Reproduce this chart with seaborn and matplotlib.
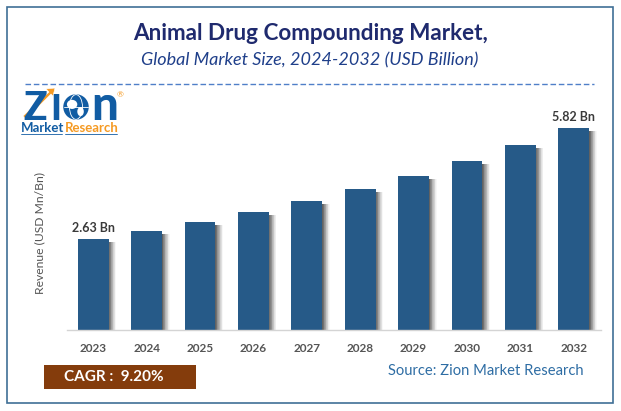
import matplotlib
matplotlib.use("Agg")
import matplotlib.pyplot as plt
import matplotlib.patheffects as pe
from matplotlib.patches import Rectangle, Circle, Polygon, Ellipse
import pandas as pd
import seaborn as sns

years = ["2023", "2024", "2025", "2026", "2027", "2028", "2029", "2030", "2031", "2032"]
revenue = [2.63, 2.85, 3.11, 3.40, 3.72, 4.07, 4.44, 4.87, 5.33, 5.82]
first_label = "2.63 Bn"
last_label = "5.82 Bn"

W, H = 621, 411


def fx(px):
    return px / W


def fy(px):
    return 1 - px / H


sns.set_theme(style="white")
plt.rcParams["font.family"] = ["Lato", "DejaVu Sans"]

fig = plt.figure(figsize=(6.21, 4.11), dpi=100, facecolor="white")
ax = fig.add_axes([fx(66.5), fy(330), fx(534), (330 - 100) / H])

df = pd.DataFrame({"year": years, "revenue": revenue})
sns.barplot(data=df, x="year", y="revenue", color="#265a88", saturation=1, width=0.575,
            linewidth=0, edgecolor="none", ax=ax)

# soft shadow on the right side of the bars, widest layer first
shadow = [
    pe.SimplePatchShadow(offset=(dx, -2), shadow_rgbFace="#000000", alpha=a)
    for dx, a in [(5.5, 0.03), (5, 0.04), (4.5, 0.05), (4, 0.06), (3.5, 0.07), (3, 0.08),
                  (2.5, 0.09), (2, 0.1), (1.5, 0.11), (1, 0.12), (0.5, 0.13)]
]
shadow.append(pe.Normal())
for bar in ax.patches:
    bar.set_path_effects(shadow)

ax.set_xlim(-0.5, 9.5)
ax.set_ylim(0, 230 / 34.7)
sns.despine(ax=ax, left=True)
ax.spines["bottom"].set_color("#d4d4d4")
ax.spines["bottom"].set_linewidth(1)
ax.set_yticks([])
ax.set_xlabel("")
ax.set_ylabel("Revenue (USD Mn/Bn)", fontsize=8.7, color="#555555")
ax.yaxis.set_label_coords(-0.04, 0.42)
ax.tick_params(axis="x", length=0, pad=9, labelsize=8.5)
for t in ax.get_xticklabels():
    t.set_color("#555555")
    t.set_fontweight("bold")

ax.text(0, revenue[0] + 0.15, first_label, ha="center", va="bottom", fontsize=9, fontweight="bold", color="#3a3a3a")
ax.text(9, revenue[9] + 0.15, last_label, ha="center", va="bottom", fontsize=9, fontweight="bold", color="#3a3a3a")

# frame
fig.add_artist(Rectangle((fx(7), fy(403)), fx(606), (403 - 7) / H, fill=False, ec="#3f6f96", lw=1.2,
                         transform=fig.transFigure))

# titles
fig.text(fx(311), fy(33), "Animal Drug Compounding Market,", ha="center", va="center",
         fontsize=16.2, fontweight="bold", color="#1f2a6e")
fig.text(fx(310), fy(60), "Global Market Size, 2024-2032 (USD Billion)", ha="center", va="center",
         fontsize=13, style="italic", color="#1f3f8a")
fig.add_artist(plt.Line2D([fx(25), fx(594)], [fy(84), fy(84)], color="#4f7fc8", lw=1, ls=(0, (4, 2)),
                          transform=fig.transFigure))

# logo
logo_blue = "#115ca3"
logo_orange = "#f59a23"
fig.text(fx(23), fy(120), "Z", fontsize=28, fontweight="black", color=logo_blue, va="baseline")
fig.text(fx(50), fy(120), "I", fontsize=26, fontweight="black", color=logo_blue, va="baseline")
fig.text(fx(91), fy(120), "n", fontsize=34, fontweight="black", color=logo_blue, va="baseline")
fig.text(fx(117), fy(97), "®", fontsize=6, color=logo_orange, va="baseline")
fig.add_artist(Polygon([[fx(23), fy(116)], [fx(49), fy(92)], [fx(46), fy(89)], [fx(55), fy(88)],
                        [fx(53), fy(96)], [fx(51), fy(94)], [fx(26), fy(119)]],
                       fc=logo_orange, ec="white", lw=0.4, transform=fig.transFigure))
logo_ax = fig.add_axes([fx(63), fy(120), fx(26), 26 / H])
logo_ax.set_aspect("equal")
logo_ax.axis("off")
logo_ax.set_xlim(-1, 1)
logo_ax.set_ylim(-1, 1)
logo_ax.add_patch(Circle((0, 0), 0.98, fc=logo_blue, ec="none"))
logo_ax.add_patch(Ellipse((0, 0), 1.0, 1.9, fill=False, ec="white", lw=0.6))
logo_ax.add_patch(Ellipse((-0.3, 0.2), 0.8, 0.7, fc="white", ec="none"))
logo_ax.add_patch(Ellipse((0.35, -0.35), 0.5, 0.7, fc="white", ec="none"))
logo_ax.plot([-0.95, 0.95], [0, 0], color="white", lw=0.6)
fig.text(fx(21), fy(132), "Market", fontsize=9.5, fontweight="bold", color=logo_blue, va="baseline")
fig.text(fx(65), fy(132), "Research", fontsize=9.5, fontweight="bold", color=logo_orange, va="baseline")
fig.add_artist(plt.Line2D([fx(21), fx(62)], [fy(134), fy(134)], color=logo_blue, lw=0.6, transform=fig.transFigure))
fig.add_artist(plt.Line2D([fx(65), fx(117)], [fy(134), fy(134)], color=logo_blue, lw=0.6, transform=fig.transFigure))

# CAGR box and source
fig.add_artist(Rectangle((fx(44), fy(389)), fx(152), 24 / H, fc="#843c0c", ec="none", transform=fig.transFigure))
fig.text(fx(64), fy(377), "CAGR :  9.20%", ha="left", va="center", fontsize=11, fontweight="bold", color="white")
fig.text(fx(388), fy(371), "Source: Zion Market Research", ha="left", va="center", fontsize=10.6, color="#2e6da4")

fig.savefig("out.png", dpi=100)
